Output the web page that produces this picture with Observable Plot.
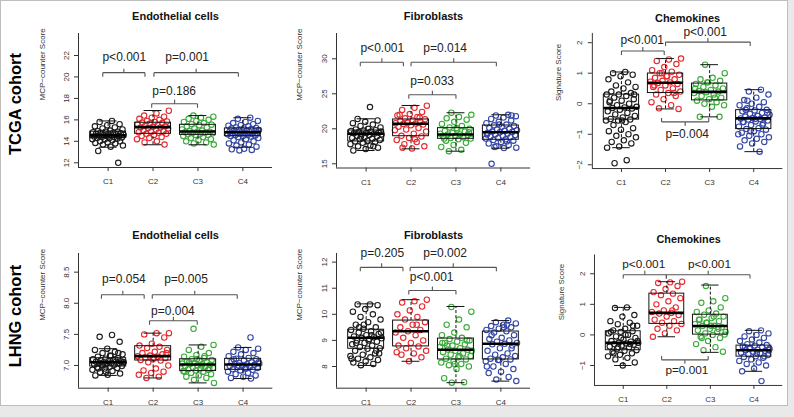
<!DOCTYPE html>
<html><head><meta charset="utf-8">
<script src="https://cdn.jsdelivr.net/npm/d3@7"></script>
<script src="https://cdn.jsdelivr.net/npm/@observablehq/plot@0.6"></script>
<style>
body{margin:0;background:#e9e9e9;}
#wrap{position:relative;width:794px;height:417px;overflow:hidden;font-family:"Liberation Sans",Arial,sans-serif;}
#sheet{position:absolute;left:0;top:0;width:786px;height:404px;background:#fff;border:1px solid #bdbdbd;}
.cohort{position:absolute;font-weight:bold;font-size:16.5px;transform:translate(-50%,-50%) rotate(-90deg);white-space:nowrap;color:#000;}
.panel{position:absolute;}
</style></head><body>
<div id="wrap"><div id="sheet"></div></div>
<script>
// ---------- data ----------
const groups = ["C1", "C2", "C3", "C4"];
const cohorts = ["TCGA cohort", "LHNG cohort"];
const panelTitles = ["Endothelial cells", "Fibroblasts", "Chemokines"];
const yTitles = ["MCP\u2212counter Score", "MCP\u2212counter Score", "Signature Score"];

// TCGA - Endothelial cells
const tcgaEndoTicks = [12, 14, 16, 18, 20, 22];
const tcgaEndoC1 = [15.9,15.8,15.6,15.5,15.4,15.3,15.2,15.1,15.0,14.95,14.9,14.9,14.85,14.8,14.8,14.75,14.7,14.7,14.65,14.6,14.6,14.55,14.55,14.5,14.5,14.45,14.4,14.4,14.35,14.3,14.3,14.25,14.2,14.2,14.1,14.0,14.0,13.9,13.85,13.8,13.7,13.6,13.5,13.1,12.0];
const tcgaEndoC2 = [16.85,16.6,16.4,16.3,16.2,16.1,16.0,15.9,15.85,15.8,15.75,15.7,15.65,15.6,15.5,15.45,15.4,15.35,15.3,15.3,15.25,15.2,15.1,15.0,14.95,14.9,14.85,14.8,14.7,14.7,14.6,14.5,14.4,14.3,14.2,14.0,13.9,13.7];
const tcgaEndoC3 = [16.4,16.3,16.2,16.1,16.0,15.9,15.8,15.7,15.6,15.55,15.5,15.4,15.3,15.2,15.1,15.0,14.95,14.9,14.9,14.85,14.8,14.8,14.75,14.7,14.65,14.6,14.6,14.5,14.4,14.3,14.2,14.1,14.0,13.9,13.8,13.7];
const tcgaEndoC4 = [16.2,16.1,15.9,15.8,15.7,15.6,15.5,15.45,15.4,15.3,15.25,15.2,15.2,15.15,15.1,15.05,15.0,15.0,14.95,14.9,14.9,14.85,14.85,14.8,14.8,14.75,14.7,14.7,14.65,14.6,14.6,14.55,14.5,14.5,14.45,14.4,14.3,14.2,14.1,14.0,13.9,13.8,13.7,13.6,13.5,13.3,13.25,13.2,13.15];
const tcgaEndoBox = [[13.45,14.3,14.55,14.9,15.9],[13.68,14.7,15.32,15.73,16.87],[13.68,14.6,14.92,15.54,16.4],[13.45,14.48,14.85,15.2,16.2]];
const tcgaEndoP = [[0.88,1.82,20.4,"p<0.001",1.36,21.8,1],[2.02,3.90,20.4,"p=0.001",2.76,21.8,1],[1.97,2.99,17.5,"p=0.186",2.47,18.67,1]];

// TCGA - Fibroblasts
const tcgaFibTicks = [15, 20, 25, 30];
const tcgaFibC1 = [23.1,21.4,21.2,21.0,20.8,20.6,20.4,20.2,20.0,19.9,19.8,19.75,19.7,19.6,19.5,19.45,19.4,19.35,19.3,19.3,19.2,19.1,19.0,18.9,18.8,18.7,18.6,18.5,18.4,18.3,18.2,18.1,18.0,17.8,17.6,17.5,17.3,17.1,16.9,17.5,18.9,19.6];
const tcgaFibC2 = [23.3,23.0,22.7,22.4,22.1,21.9,21.7,21.5,21.35,21.2,21.1,21.0,20.9,20.8,20.75,20.7,20.6,20.5,20.3,20.1,19.9,19.6,19.3,19.0,18.9,18.7,18.4,18.1,17.8,17.5,17.2,22.0,21.6,20.9,19.8,18.5,17.3];
const tcgaFibC3 = [22.3,22.0,21.7,21.5,21.3,21.0,20.7,20.4,20.2,20.0,19.9,19.7,19.6,19.4,19.3,19.2,19.2,19.1,19.0,18.9,18.8,18.7,18.6,18.5,18.3,18.0,17.7,17.4,17.0,16.8,19.5,20.1,18.6];
const tcgaFibC4 = [22.0,21.9,21.8,21.6,21.4,21.2,21.0,20.8,20.6,20.5,20.4,20.3,20.1,20.0,19.9,19.8,19.7,19.6,19.55,19.5,19.4,19.3,19.2,19.1,19.0,18.9,18.8,18.7,18.6,18.5,18.4,18.3,18.1,17.9,17.7,17.5,17.3,17.25,15.0,21.9,20.6,19.2,18.2,17.4];
const tcgaFibBox = [[16.9,18.19,19.29,19.76,21.43],[17.14,18.94,20.71,21.33,23.33],[16.8,18.57,19.19,20.09,22.29],[17.23,18.43,19.51,20.47,22.0]];
const tcgaFibP = [[0.87,1.83,29.5,"p<0.001",1.36,31.5,1],[2.0,3.9,29.5,"p=0.014",2.76,31.5,1],[1.95,3.0,24.86,"p=0.033",2.47,26.76,1]];

// TCGA - Chemokines
const tcgaChemTicks = [-2, -1, 0, 1, 2];
const tcgaChemC1 = [1.04,1.0,0.95,0.9,0.8,0.7,0.6,0.55,0.5,0.4,0.35,0.3,0.3,0.25,0.2,0.15,0.1,0.05,0.0,-0.05,-0.1,-0.12,-0.14,-0.16,-0.2,-0.25,-0.3,-0.35,-0.4,-0.45,-0.5,-0.52,-0.55,-0.55,-0.6,-0.7,-0.8,-0.85,-0.9,-1.0,-1.05,-1.1,-1.2,-1.25,-1.3,-1.4,-1.44,-1.85,-1.95,0.3,-0.55,0.1];
const tcgaChemC2 = [1.48,1.45,1.4,1.3,1.2,1.1,1.05,1.0,0.95,0.9,0.85,0.8,0.75,0.72,0.7,0.68,0.65,0.6,0.55,0.5,0.45,0.4,0.35,0.3,0.25,0.15,0.05,-0.05,-0.15,-0.17,0.9,0.6,0.35,1.0];
const tcgaChemC3 = [1.28,1.0,0.85,0.8,0.75,0.7,0.65,0.6,0.55,0.5,0.45,0.42,0.4,0.38,0.35,0.3,0.25,0.2,0.15,0.1,0.05,0.0,-0.05,-0.1,-0.43,-0.43,0.7,0.5,0.2];
const tcgaChemC4 = [0.46,0.4,0.3,0.2,0.12,0.05,0.0,-0.05,-0.1,-0.15,-0.2,-0.22,-0.25,-0.3,-0.33,-0.36,-0.4,-0.42,-0.45,-0.47,-0.48,-0.5,-0.52,-0.55,-0.58,-0.6,-0.65,-0.7,-0.75,-0.8,-0.83,-0.85,-0.9,-0.95,-1.0,-1.05,-1.1,-1.15,-1.2,-1.25,-1.3,-1.4,-1.57,0.1,-0.3,-0.5,-0.6,-0.7,-0.9,-1.0,-0.4,-0.2];
const tcgaChemBox = [[-1.44,-0.52,-0.14,0.30,1.04],[-0.17,0.35,0.69,0.99,1.48],[-0.43,0.11,0.39,0.66,1.28],[-1.57,-0.83,-0.48,-0.21,0.46]];
const tcgaChemP = [[1.0,1.97,1.73,"p<0.001",1.47,2.08,1],[2.0,3.92,2.02,"p<0.001",2.9,2.35,1],[1.91,2.98,-0.595,"p=0.004",2.49,-0.997,-1]];

// LHNG - Endothelial cells
const lhngEndoTicks = [7.0, 7.5, 8.0, 8.5];
const lhngEndoC1 = [7.49,7.46,7.38,7.27,7.25,7.22,7.2,7.18,7.16,7.14,7.12,7.11,7.1,7.09,7.08,7.07,7.07,7.06,7.06,7.05,7.05,7.04,7.04,7.03,7.03,7.02,7.01,7.0,6.99,6.98,6.97,6.96,6.95,6.93,6.91,6.89,6.87,6.85,6.84,7.1,7.0,7.05,7.15,6.95,7.2,6.9];
const lhngEndoC2 = [7.52,7.52,7.5,7.45,7.35,7.32,7.3,7.28,7.25,7.22,7.2,7.18,7.16,7.15,7.14,7.13,7.12,7.1,7.09,7.08,7.05,7.0,6.95,6.92,6.9,6.88,6.85,6.82,6.8,7.2,7.12];
const lhngEndoC3 = [7.59,7.33,7.3,7.25,7.2,7.17,7.14,7.12,7.1,7.09,7.08,7.06,7.05,7.04,7.03,7.02,7.02,7.01,7.0,6.99,6.98,6.97,6.96,6.95,6.94,6.93,6.92,6.91,6.9,6.88,6.86,6.84,6.82,6.8,6.77,6.72,7.0,7.05,6.95,7.1,6.9,7.15];
const lhngEndoC4 = [7.45,7.29,7.27,7.25,7.22,7.2,7.18,7.15,7.12,7.11,7.1,7.08,7.06,7.05,7.04,7.03,7.02,7.02,7.01,7.0,6.99,6.98,6.97,6.96,6.95,6.94,6.93,6.92,6.9,6.88,6.86,6.84,6.82,6.8,6.79,7.0,7.05,6.95,7.1];
const lhngEndoBox = [[6.84,6.984,7.053,7.117,7.27],[6.80,7.08,7.15,7.31,7.52],[6.72,6.91,7.016,7.10,7.33],[6.79,6.93,7.016,7.107,7.29]];
const lhngEndoP = [[0.85,1.8,8.137,"p=0.054",1.35,8.38,1],[1.98,3.87,8.137,"p=0.005",2.73,8.38,1],[1.92,2.98,7.72,"p=0.004",2.44,7.87,1]];

// LHNG - Fibroblasts
const lhngFibTicks = [8, 9, 10, 11, 12];
const lhngFibC1 = [10.38,10.38,10.35,10.2,10.1,10.0,9.9,9.8,9.7,9.6,9.5,9.45,9.4,9.35,9.3,9.25,9.2,9.15,9.12,9.1,9.08,9.05,9.0,8.95,8.9,8.85,8.8,8.75,8.7,8.68,8.6,8.5,8.45,8.4,8.35,8.3,8.25,8.2,8.15,8.1,8.05,9.3,9.0,8.9,8.6,9.6,8.3,9.2,9.5,8.5];
const lhngFibC2 = [10.56,10.5,10.45,10.3,10.15,10.0,9.9,9.8,9.7,9.6,9.5,9.4,9.35,9.3,9.2,9.1,9.0,8.9,8.8,8.77,8.7,8.6,8.5,8.45,8.35,8.2,8.55,9.6];
const lhngFibC3 = [10.28,10.1,9.8,9.6,9.5,9.3,9.2,9.1,9.05,9.0,8.95,8.9,8.85,8.8,8.75,8.7,8.65,8.64,8.6,8.55,8.5,8.45,8.4,8.35,8.3,8.27,8.2,8.15,8.1,8.05,8.0,7.9,7.55,7.4,7.38,8.6,8.4,8.8,9.0,8.1,8.9];
const lhngFibC4 = [9.76,9.7,9.65,9.6,9.55,9.5,9.45,9.4,9.35,9.3,9.2,9.1,9.05,9.0,8.95,8.9,8.87,8.85,8.8,8.7,8.6,8.5,8.45,8.4,8.35,8.3,8.27,8.25,8.2,8.1,8.0,7.9,7.8,7.75,7.6,7.5,7.44,9.5,9.2,8.7,8.25,8.0,9.6];
const lhngFibBox = [[8.04,8.68,9.10,9.41,10.40],[8.20,8.77,9.35,9.76,10.56],[7.38,8.27,8.64,9.07,10.30],[7.44,8.27,8.87,9.34,9.76]];
const lhngFibP = [[0.87,1.82,11.8,"p=0.205",1.36,12.36,1],[1.98,3.9,11.8,"p=0.002",2.76,12.36,1],[1.95,3.0,10.91,"p<0.001",2.46,11.42,1]];

// LHNG - Chemokines
const lhngChemTicks = [-1, 0, 1, 2];
const lhngChemC1 = [0.9,0.88,0.65,0.6,0.45,0.4,0.35,0.3,0.2,0.15,0.12,0.1,0.05,0.0,-0.05,-0.1,-0.15,-0.2,-0.22,-0.25,-0.26,-0.28,-0.3,-0.32,-0.35,-0.38,-0.4,-0.45,-0.5,-0.52,-0.55,-0.6,-0.65,-0.7,-0.75,-0.8,-0.9,-1.0,0.1,-0.3,-0.4,-0.2,0.0,-0.6,0.3,-0.1];
const lhngChemC2 = [1.74,1.72,1.7,1.6,1.5,1.4,1.35,1.3,1.2,1.1,1.0,0.9,0.8,0.75,0.72,0.7,0.65,0.6,0.5,0.45,0.4,0.36,0.3,0.2,0.15,0.05,-0.06,0.8];
const lhngChemC3 = [1.6,1.2,1.1,1.05,0.9,0.8,0.75,0.7,0.66,0.6,0.55,0.5,0.45,0.4,0.35,0.3,0.29,0.25,0.2,0.15,0.1,0.05,0.01,0.0,-0.05,-0.1,-0.2,-0.3,-0.4,-0.5,-0.55,0.3,0.5,0.2,0.4,0.1,0.6,-0.1];
const lhngChemC4 = [0.15,0.12,0.05,0.0,-0.05,-0.1,-0.15,-0.2,-0.25,-0.3,-0.33,-0.35,-0.38,-0.4,-0.43,-0.45,-0.48,-0.5,-0.52,-0.55,-0.58,-0.6,-0.63,-0.66,-0.7,-0.72,-0.75,-0.8,-0.85,-0.9,-0.95,-1.0,-1.1,-1.19,-1.51,-0.45,-0.5,-0.6,-0.4,-0.7];
const lhngChemBox = [[-1.0,-0.50,-0.26,0.12,0.90],[-0.06,0.36,0.72,1.35,1.74],[-0.57,0.01,0.29,0.66,1.63],[-1.19,-0.71,-0.50,-0.35,0.15]];
const lhngChemP = [[1.0,1.99,1.97,"p<0.001",1.47,2.31,1],[1.99,3.91,1.97,"p<0.001",2.98,2.31,1],[1.88,2.95,-0.816,"p=0.001",2.46,-1.14,-1]];

// ---------- styles ----------
const groupColors = ["#1c1c1c", "#e52a2f", "#3aaa3a", "#3446a6"];
const FONT = "Liberation Sans, Arial, Helvetica, sans-serif";

// deterministic jitter (layout only)
function jit(i, g) { return ((((i + 1) * 0.6180339887 + g * 0.37) % 1) - 0.5) * 0.72; }

function drawPanel(cfg) {
  const {fl, fr, ft, fb, ydom, yticks, yfmt, vals, box, br, title, ylabel, titleDy, ylabDx} = cfg;
  const mL = 60, mR = 12, mT = 30, mB = 28;
  const W = fr - fl + mL + mR, H = fb - ft + mT + mB;
  const xdom = [0.34, 4.66];
  const ppu = (fb - ft) / (ydom[1] - ydom[0]);
  const arm = 4 / ppu;
  const boxes = box.map((b, g) => ({g: g + 1, lo: b[0], q1: b[1], med: b[2], q3: b[3], hi: b[4]}));
  const segs = [];
  br.forEach(b => {
    const [x1, x2, y, , , , dir] = b;
    const m = (x1 + x2) / 2;
    segs.push({x1, x2, y1: y, y2: y});
    segs.push({x1: x1, x2: x1, y1: y, y2: y - dir * arm});
    segs.push({x1: x2, x2: x2, y1: y, y2: y - dir * arm});
    segs.push({x1: m, x2: m, y1: y, y2: y + dir * arm});
  });
  const dotMarks = vals.map((arr, g) => Plot.dot(arr, {
    x: (d, i) => g + 1 + jit(i, g), y: d => d, r: 2.7,
    stroke: groupColors[g], strokeWidth: 1.1, fill: "none"
  }));
  const chart = Plot.plot({
    width: W, height: H, marginLeft: mL, marginRight: mR, marginTop: mT, marginBottom: mB,
    x: {type: "linear", domain: xdom},
    y: {type: "linear", domain: ydom},
    style: {background: "transparent", overflow: "visible", fontFamily: FONT},
    marks: [
      ...dotMarks,
      Plot.ruleX(boxes, {x: "g", y1: "q3", y2: "hi", stroke: "#111", strokeDasharray: "3,2"}),
      Plot.ruleX(boxes, {x: "g", y1: "lo", y2: "q1", stroke: "#111", strokeDasharray: "3,2"}),
      Plot.ruleY(boxes, {y: "hi", x1: d => d.g - 0.2, x2: d => d.g + 0.2, stroke: "#111"}),
      Plot.ruleY(boxes, {y: "lo", x1: d => d.g - 0.2, x2: d => d.g + 0.2, stroke: "#111"}),
      Plot.rect(boxes, {x1: d => d.g - 0.4, x2: d => d.g + 0.4, y1: "q1", y2: "q3", stroke: "#111", fill: "none"}),
      Plot.ruleY(boxes, {y: "med", x1: d => d.g - 0.4, x2: d => d.g + 0.4, stroke: "#000", strokeWidth: 2.6}),
      Plot.link(segs, {x1: "x1", x2: "x2", y1: "y1", y2: "y2", stroke: "#555", strokeWidth: 1.1}),
      Plot.text(br, {x: d => d[4], y: d => d[5], text: d => d[3], fontSize: 12, fill: "#222"}),
      Plot.ruleX([xdom[0]], {stroke: "#333"}),
      Plot.ruleY([ydom[0]], {stroke: "#333"}),
      Plot.axisY({ticks: yticks, tickFormat: yfmt, tickSize: 4, tickRotate: -90, tickPadding: 6, fontSize: 8, color: "#333", label: null}),
      Plot.axisX({ticks: [1, 2, 3, 4], tickFormat: d => groups[d - 1], tickSize: 4, tickPadding: 7, fontSize: 8, color: "#333", label: null}),
      Plot.text([title], {text: d => d, frameAnchor: "top", dy: titleDy, fontWeight: "bold", fontSize: 11, fill: "#111"}),
      Plot.text([ylabel], {text: d => d, frameAnchor: "left", dx: ylabDx, rotate: -90, fontSize: 8, fill: "#333"})
    ]
  });
  const holder = document.createElement("div");
  holder.className = "panel";
  holder.style.left = (fl - mL) + "px";
  holder.style.top = (ft - mT) + "px";
  holder.appendChild(chart);
  document.getElementById("wrap").appendChild(holder);
}

const fmtInt = d3.format("d");
const fmt1 = d3.format(".1f");

drawPanel({fl: 78, fr: 272, ft: 33, fb: 167, ydom: [11.56, 24.05], yticks: tcgaEndoTicks, yfmt: fmtInt,
  vals: [tcgaEndoC1, tcgaEndoC2, tcgaEndoC3, tcgaEndoC4], box: tcgaEndoBox, br: tcgaEndoP,
  title: panelTitles[0], ylabel: yTitles[0], titleDy: -21, ylabDx: -36});
drawPanel({fl: 336, fr: 530, ft: 33, fb: 167.5, ydom: [14.4, 33.61], yticks: tcgaFibTicks, yfmt: fmtInt,
  vals: [tcgaFibC1, tcgaFibC2, tcgaFibC3, tcgaFibC4], box: tcgaFibBox, br: tcgaFibP,
  title: panelTitles[1], ylabel: yTitles[1], titleDy: -21, ylabDx: -37});
drawPanel({fl: 591.7, fr: 782.7, ft: 33, fb: 168.5, ydom: [-2.124, 2.304], yticks: tcgaChemTicks, yfmt: fmtInt,
  vals: [tcgaChemC1, tcgaChemC2, tcgaChemC3, tcgaChemC4], box: tcgaChemBox, br: tcgaChemP,
  title: panelTitles[2], ylabel: yTitles[2], titleDy: -19, ylabDx: -34});
drawPanel({fl: 77.7, fr: 272, ft: 253, fb: 387.7, ydom: [6.635, 8.80], yticks: lhngEndoTicks, yfmt: fmt1,
  vals: [lhngEndoC1, lhngEndoC2, lhngEndoC3, lhngEndoC4], box: lhngEndoBox, br: lhngEndoP,
  title: panelTitles[0], ylabel: yTitles[0], titleDy: -22, ylabDx: -36});
drawPanel({fl: 336, fr: 530, ft: 253, fb: 387.7, ydom: [7.169, 12.33], yticks: lhngFibTicks, yfmt: fmtInt,
  vals: [lhngFibC1, lhngFibC2, lhngFibC3, lhngFibC4], box: lhngFibBox, br: lhngFibP,
  title: panelTitles[1], ylabel: yTitles[1], titleDy: -22, ylabDx: -37});
drawPanel({fl: 595, fr: 786.4, ft: 255, fb: 387.7, ydom: [-1.653, 2.614], yticks: lhngChemTicks, yfmt: fmtInt,
  vals: [lhngChemC1, lhngChemC2, lhngChemC3, lhngChemC4], box: lhngChemBox, br: lhngChemP,
  title: panelTitles[2], ylabel: yTitles[2], titleDy: -20, ylabDx: -34});

// cohort labels
[[15, 104], [15, 316]].forEach((p, k) => {
  const el = document.createElement("div");
  el.className = "cohort";
  el.textContent = cohorts[k];
  el.style.left = p[0] + "px";
  el.style.top = p[1] + "px";
  document.getElementById("wrap").appendChild(el);
});
</script>
</body></html>
